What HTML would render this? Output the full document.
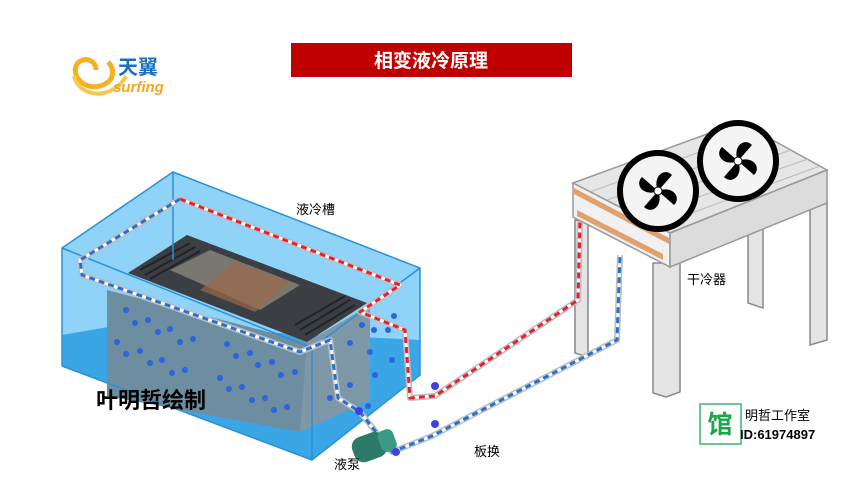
<!DOCTYPE html>
<html><head><meta charset="utf-8"><style>
body{margin:0;background:#fff;width:864px;height:484px;overflow:hidden}
svg{display:block}
text{font-family:"Liberation Sans","Noto Sans CJK SC",sans-serif}
</style></head><body>
<svg width="864" height="484" viewBox="0 0 864 484">
<!-- logo -->
<g>
<path d="M96 70 C96 58 80 56 76 66 C72 78 86 90 100 86 C114 82 116 70 108 62" fill="none" stroke="#f4b223" stroke-width="5"/>
<path d="M74 76 C78 92 96 98 112 90 C120 86 124 80 126 76" fill="none" stroke="#f7c84a" stroke-width="4"/>
<text x="118" y="74" font-size="20" font-weight="bold" fill="#1a6fc4">天翼</text>
<text x="113" y="92" font-size="15" font-style="italic" font-weight="bold" fill="#f4a81d">surfing</text>
</g>
<!-- title -->
<rect x="291" y="43" width="281" height="34" fill="#c00000"/>
<text x="431" y="67" font-size="19" font-weight="bold" fill="#fff" text-anchor="middle">相变液冷原理</text>

<!-- tank back/side -->
<polygon points="62,248 173,172 420,268 420,375 312,460 62,366" fill="#8fd3f8"/>
<!-- water lower -->
<polygon points="62,335 120,325 420,340 420,375 312,460 62,366" fill="#3aa6e6"/>
<!-- server block -->
<polygon points="107,290 307,342 300,432 107,396" fill="#6d8ea0"/>
<polygon points="307,342 370,305 370,400 300,432" fill="#7f98a8"/>
<polygon points="128,273 187,235 367,303 307,342" fill="#3b3f44"/>
<polygon points="170,270 210,250 300,285 260,310" fill="#7a7670"/>
<polygon points="200,290 235,262 290,282 255,312" fill="#9a6a48" opacity=".7"/>
<g stroke="#111" stroke-width="2" opacity=".6">
<line x1="140" y1="270" x2="190" y2="243"/><line x1="145" y1="275" x2="195" y2="247"/><line x1="150" y1="279" x2="200" y2="251"/>
<line x1="300" y1="330" x2="350" y2="300"/><line x1="295" y1="325" x2="345" y2="296"/><line x1="305" y1="335" x2="355" y2="305"/>
</g>
<!-- bubbles -->
<g fill="#2a64e0">
<circle cx="126" cy="310" r="3"/><circle cx="135" cy="323" r="3"/><circle cx="148" cy="320" r="3"/><circle cx="158" cy="332" r="3"/><circle cx="170" cy="329" r="3"/>
<circle cx="117" cy="342" r="3"/><circle cx="126" cy="354" r="3"/><circle cx="140" cy="351" r="3"/><circle cx="150" cy="363" r="3"/><circle cx="162" cy="360" r="3"/>
<circle cx="180" cy="342" r="3"/><circle cx="193" cy="339" r="3"/><circle cx="227" cy="344" r="3"/><circle cx="236" cy="356" r="3"/><circle cx="250" cy="353" r="3"/>
<circle cx="258" cy="365" r="3"/><circle cx="272" cy="362" r="3"/><circle cx="281" cy="375" r="3"/><circle cx="295" cy="372" r="3"/><circle cx="220" cy="378" r="3"/>
<circle cx="172" cy="373" r="3"/><circle cx="185" cy="370" r="3"/><circle cx="229" cy="389" r="3"/><circle cx="242" cy="387" r="3"/><circle cx="252" cy="400" r="3"/>
<circle cx="265" cy="398" r="3"/><circle cx="274" cy="410" r="3"/><circle cx="287" cy="407" r="3"/><circle cx="350" cy="343" r="3"/><circle cx="362" cy="325" r="3"/>
<circle cx="374" cy="330" r="3"/><circle cx="388" cy="330" r="3"/><circle cx="394" cy="316" r="3"/><circle cx="375" cy="375" r="3"/><circle cx="370" cy="352" r="3"/>
<circle cx="392" cy="360" r="3"/><circle cx="350" cy="385" r="3"/><circle cx="330" cy="398" r="3"/><circle cx="345" cy="403" r="3"/><circle cx="368" cy="406" r="3"/>
</g>
<!-- tank edges -->
<g fill="none" stroke="#2a90d8" stroke-width="1.5">
<polyline points="62,366 62,248 173,172 420,268 420,375 312,460 62,366"/>
<line x1="62" y1="248" x2="312" y2="348"/><line x1="312" y1="348" x2="312" y2="460"/><line x1="312" y1="348" x2="420" y2="268"/>
<line x1="173" y1="172" x2="173" y2="260"/>
</g>

<!-- dry cooler legs -->
<g fill="#e4e4e4" stroke="#888" stroke-width="1.5">
<polygon points="575,220 588,222 588,357 575,353"/>
<polygon points="748,233 763,228 763,308 748,303"/>
<polygon points="810,207 827,202 827,340 810,345"/>
<polygon points="653,263 680,263 680,392 666,397 653,393"/>
</g>
<!-- cooler body -->
<polygon points="573,183 740,122 827,170 670,233" fill="#e6e6e6" stroke="#999" stroke-width="1.5"/>
<g stroke="#bbb" stroke-width="1">
<line x1="590" y1="192" x2="757" y2="131"/><line x1="607" y1="200" x2="774" y2="140"/><line x1="624" y1="209" x2="791" y2="150"/><line x1="641" y1="217" x2="808" y2="159"/><line x1="656" y1="226" x2="820" y2="166"/>
</g>
<polygon points="573,183 670,233 670,267 573,217" fill="#f1f1f1" stroke="#999" stroke-width="1.5"/>
<polygon points="670,233 827,170 827,203 670,267" fill="#dcdcdc" stroke="#999" stroke-width="1.5"/>
<polygon points="574,188 669,238 669,244 574,194" fill="#e0a070"/>
<polygon points="577,210 663,254 663,260 577,216" fill="#e0a070"/>
<!-- fans -->
<g>
<circle cx="658" cy="191" r="38" fill="#f4f4f4" stroke="#000" stroke-width="6"/>
<circle cx="738" cy="161" r="38" fill="#f4f4f4" stroke="#000" stroke-width="6"/>
<g fill="#000">
<g transform="translate(658,191)"><path d="M0 0 C-6 -14 6 -24 14 -16 Z"/><path d="M0 0 C14 -6 24 6 16 14 Z"/><path d="M0 0 C6 14 -6 24 -14 16 Z"/><path d="M0 0 C-14 6 -24 -6 -16 -14 Z"/><circle r="4" fill="#fff" stroke="#000"/></g>
<g transform="translate(738,161)"><path d="M0 0 C-6 -14 6 -24 14 -16 Z"/><path d="M0 0 C14 -6 24 6 16 14 Z"/><path d="M0 0 C6 14 -6 24 -14 16 Z"/><path d="M0 0 C-14 6 -24 -6 -16 -14 Z"/><circle r="4" fill="#fff" stroke="#000"/></g>
</g>
</g>

<!-- pipes -->
<g fill="none" stroke-linejoin="round">
<polyline points="180,199 400,285 360,312 405,330 410,398 435,396 578,300 580,222" stroke="#b8bcc4" stroke-width="6"/>
<polyline points="180,199 400,285 360,312 405,330 410,398 435,396 578,300 580,222" stroke="#fff" stroke-width="3"/>
<polyline points="180,199 400,285 360,312 405,330 410,398 435,396 578,300 580,222" stroke="#e8202a" stroke-width="3" stroke-dasharray="6 4"/>
<polyline points="180,199 80,260 82,275 300,352 330,340 338,398 360,412 392,452 432,436 617,340 620,255" stroke="#b8bcc4" stroke-width="6"/>
<polyline points="180,199 80,260 82,275 300,352 330,340 338,398 360,412 392,452 432,436 617,340 620,255" stroke="#fff" stroke-width="3"/>
<polyline points="180,199 80,260 82,275 300,352 330,340 338,398 360,412 392,452 432,436 617,340 620,255" stroke="#2a72c8" stroke-width="3" stroke-dasharray="6 4"/>
</g>
<!-- pump -->
<g transform="rotate(-20 375 445)">
<rect x="352" y="432" width="34" height="26" rx="10" fill="#2e7a6a"/>
<rect x="380" y="434" width="16" height="22" rx="6" fill="#3a9a84"/>
</g>
<g fill="#4040e0"><circle cx="359" cy="411" r="4"/><circle cx="396" cy="452" r="4"/><circle cx="435" cy="386" r="4"/><circle cx="435" cy="424" r="4"/></g>

<!-- labels -->
<text x="296" y="214" font-size="13" fill="#000">液冷槽</text>
<text x="687" y="284" font-size="13" fill="#000">干冷器</text>
<text x="334" y="469" font-size="13" fill="#000">液泵</text>
<text x="474" y="456" font-size="13" fill="#000">板换</text>
<text x="96" y="408" font-size="22" font-weight="bold" fill="#000">叶明哲绘制</text>
<rect x="700" y="404" width="41" height="40" fill="#fff" stroke="#3cb371" stroke-width="1.5"/>
<text x="720" y="433" font-size="25" font-weight="bold" fill="#1aa64a" text-anchor="middle">馆</text>
<text x="745" y="420" font-size="13" fill="#000">明哲工作室</text>
<text x="740" y="439" font-size="13" font-weight="bold" fill="#000">ID:61974897</text>
</svg>
</body></html>
